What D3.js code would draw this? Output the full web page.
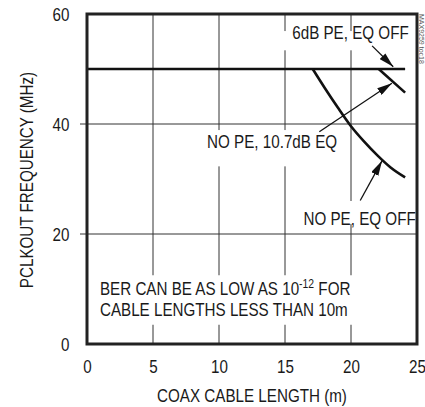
<!DOCTYPE html>
<html>
<head>
<meta charset="utf-8">
<script src="https://cdn.jsdelivr.net/npm/d3@7"></script>
<style>
  body { margin: 0; background: #fff; }
  text { font-family: 'Liberation Sans', Arial, sans-serif; fill: #1a1a1a; }
</style>
</head>
<body>
<div id="chart"></div>
<script>
  // values
  const xTicks = [0, 5, 10, 15, 20, 25];
  const yTicks = [0, 20, 40, 60];
  const xGrid = [5, 10, 15, 20];
  const yGrid = [20, 40];

  const pe6dbEqOff = [[0, 50], [24.1, 50]];
  const noPe107Eq = [[22.1, 50], [24.1, 45.7]];
  const noPeEqOff = [[17.1, 50], [18, 46.6], [19, 43], [20, 39.6], [21, 36.8], [22, 34.3], [23, 32.1], [24.1, 30.3]];

  // labels: text, anchor point [x, y] in data units, arrow from / to
  const labelText = ['6dB PE, EQ OFF', 'NO PE, 10.7dB EQ', 'NO PE, EQ OFF'];
  const labelPos = [[15.55, 55.5], [9.1, 35.6], [16.4, 21.7]];
  const arrowFrom = [[21.6, 54.2], [17.6, 38.6], [20.7, 26.1]];
  const arrowTo = [[23.2, 50.4], [23.1, 47.4], [22.35, 33.3]];

  const width = 425, height = 407;
  const margin = { top: 14, right: 8, bottom: 63, left: 87 };
  const w = width - margin.left - margin.right;
  const h = height - margin.top - margin.bottom;
  const narrow = 0.8; // the reference uses a condensed face
  const fs = 19;

  const svg = d3.select('#chart').append('svg')
    .attr('width', width)
    .attr('height', height);

  svg.append('defs').append('marker')
    .attr('id', 'arrow')
    .attr('viewBox', '0 0 15 8')
    .attr('refX', 15).attr('refY', 4)
    .attr('markerWidth', 15).attr('markerHeight', 8)
    .attr('markerUnits', 'userSpaceOnUse')
    .attr('orient', 'auto')
    .append('path')
    .attr('d', 'M0,0 L15,4 L0,8 Z')
    .attr('fill', '#111');

  const g = svg.append('g').attr('transform', `translate(${margin.left},${margin.top})`);

  const x = d3.scaleLinear().domain([0, 25]).range([0, w]);
  const y = d3.scaleLinear().domain([0, 60]).range([h, 0]);

  // condensed text at a point
  function label(parent, px, py, t, extra) {
    return parent.append('text')
      .attr('transform', `translate(${px},${py}) ${extra || ''} scale(${narrow},1)`)
      .attr('font-size', fs)
      .text(t);
  }

  // grid
  g.selectAll('.xg').data(xGrid).enter().append('line')
    .attr('x1', d => x(d)).attr('x2', d => x(d))
    .attr('y1', 0).attr('y2', h)
    .attr('stroke', '#333').attr('stroke-width', 1);
  g.selectAll('.yg').data(yGrid).enter().append('line')
    .attr('x1', -7).attr('x2', w)
    .attr('y1', d => y(d)).attr('y2', d => y(d))
    .attr('stroke', '#333').attr('stroke-width', 1);

  // white boxes behind the texts (gridlines break there)
  const boxes = [
    [14.9, 20.6, 56.9, 53.4],
    [8.7, 15.4, 38.9, 32.3],
    [15.8, 20.5, 26.0, 21.8],
    [0.6, 20.3, 12.5, 3.5]
  ];
  g.selectAll('.box').data(boxes).enter().append('rect')
    .attr('x', d => x(d[0])).attr('width', d => x(d[1]) - x(d[0]))
    .attr('y', d => y(d[2])).attr('height', d => y(d[3]) - y(d[2]))
    .attr('fill', '#fff');

  // axes
  const xAxis = g.append('g').attr('transform', `translate(0,${h})`)
    .call(d3.axisBottom(x).tickValues(xTicks).tickSize(0).tickPadding(16));
  const yAxis = g.append('g')
    .call(d3.axisLeft(y).tickValues(yTicks).tickSize(0).tickPadding(22));
  [xAxis, yAxis].forEach(a => {
    a.select('.domain').remove();
    a.selectAll('text')
      .attr('font-size', fs).attr('font-family', null)
      .attr('transform', `scale(${narrow},1)`)
      .style('fill', '#1a1a1a');
  });

  // series
  const line = d3.line().x(d => x(d[0])).y(d => y(d[1])).curve(d3.curveMonotoneX);
  [pe6dbEqOff, noPe107Eq, noPeEqOff].forEach(s => {
    g.append('path').datum(s)
      .attr('d', line)
      .attr('fill', 'none')
      .attr('stroke', '#111')
      .attr('stroke-width', 2.6);
  });

  // frame
  g.append('rect')
    .attr('x', 0).attr('y', 0).attr('width', w).attr('height', h)
    .attr('fill', 'none').attr('stroke', '#222').attr('stroke-width', 3);

  // annotations
  labelText.forEach((t, i) => {
    label(g, x(labelPos[i][0]), y(labelPos[i][1]), t);
    g.append('line')
      .attr('x1', x(arrowFrom[i][0])).attr('y1', y(arrowFrom[i][1]))
      .attr('x2', x(arrowTo[i][0])).attr('y2', y(arrowTo[i][1]))
      .attr('stroke', '#111').attr('stroke-width', 1.3)
      .attr('marker-end', 'url(#arrow)');
  });

  const ber = label(g, x(0.98), y(8.9), '');
  ber.append('tspan').text('BER CAN BE AS LOW AS 10');
  ber.append('tspan').attr('dy', -7).attr('font-size', 13).text('-12');
  ber.append('tspan').attr('dy', 7).text(' FOR');
  label(g, x(0.98), y(5.1), 'CABLE LENGTHS LESS THAN 10m');

  // axis titles
  label(svg, margin.left + w / 2, 402, 'COAX CABLE LENGTH (m)')
    .attr('text-anchor', 'middle');
  label(svg, 33, margin.top + h / 2 + 1, 'PCLKOUT FREQUENCY (MHz)', 'rotate(-90)')
    .attr('text-anchor', 'middle');

  // tiny figure id at the right edge
  svg.append('text')
    .attr('transform', 'translate(419,14) rotate(90)')
    .attr('font-size', 7).style('fill', '#555')
    .text('MAX9259 toc18');
</script>
</body>
</html>
